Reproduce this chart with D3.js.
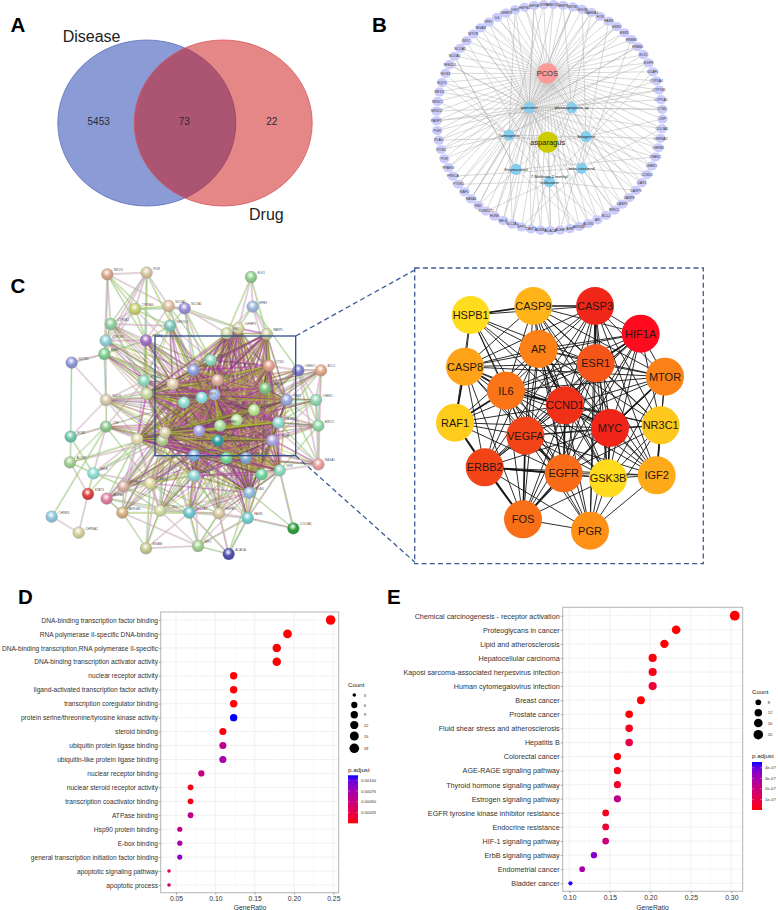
<!DOCTYPE html>
<html><head><meta charset="utf-8">
<script src="https://d3js.org/d3.v7.min.js"></script>
<style>html,body{margin:0;padding:0;background:#fff}svg{display:block}text{font-family:"Liberation Sans",Arial,sans-serif}</style>
</head><body><div id="c"></div>
<script>
/* ---------- data ---------- */
const vennValues=[5453,73,22], vennNames=["Disease","Drug"];

const ringGenes=["HMOX1","MMP9","GSTM1","GSK3B","GABRA1","FOS","FASN","ESR2","ESR1","ERBB3","ERBB2","ELK1","EGFR","DCAF1","CYP3A4","CYP1B1","CYP1A1","CTSD","CRP","COL3A1","CHRNA2","CHRM1","CHEK2","CHEK1","CCND1","CAV1","CASP9","CASP8","CASP3","BIRC5","BCL2","AR","ALOX5","AKR1B1","AHR","ACHE","ACACA","ADRB2","CANT1","SPP1","SLC2A4","SELE","HUNK","RUNX1T1","RB1","RASA1","RAF1","PTGS1","PRKCA","PPARG","POR","PON1","PLAU","PGR","PARP1","NR3C2","NR3C1","NR1I2","NQO1","NOS3","NFE2L2","NCOA2","NCOA1","MYC","MTOR","MGAM","IRF1","IL6","IGFBP3","IGF2","HSPB1","HIF1A","GYPA"];
const compounds=["quercetin","pleiosapogenin_qt","Yamogenin","Sitogenin","Stigmasterol","beta-sitosterol","7-Methoxy-2-methyl|isoflavone"];
const compoundX=[447,575,387,618,408,605,508], compoundY=[323,323,405,410,508,505,545];
const ringCompound="0103005005020610003020405001050602030015000602005010300050020406000100302".split("").map(Number);
const ringSecond=[[4,1],[7,0],[12,3],[15,1],[19,5],[22,3],[26,6],[29,5],[33,4],[36,6],[40,2],[44,4],[47,6],[51,2],[54,1],[58,2],[61,4],[66,1],[69,2],[2,0],[10,0],[17,0],[24,0],[31,0],[38,0],[45,0],[52,0],[60,0],[64,0],[71,0]];

const stringNames=["NR1I3","POR","ELK1","CYP3A4","NCOA2","NCOA1","EPB3","CYP1A1","NFE2L2","RB1","IGFBP3","PARP1","CYP1B1","PPARG","AHR","GSTM1","NR3C1","ESR2","CTSD","CHEK2","BCL2","PTGS1","IL6","MMP9","CASP3","PGR","NQO1","MYC","ESR1","EGFR","RAF1","CHEK1","CCND1","AR","ERBB2","CASP8","BIRC5","CRP","MTOR","PON1","HMOX1","SPP1","CASP9","GSK3B","HIF1A","FOS","PRKCA","VEGFA","ALOX5","RASA1","SELE","NR3C2","CAV1","IGF2","ICAM1","ACHE","PLAU","STAT3","ADRB2","NCOR1","SLC2A4","HSPB1","FASN","CHRM3","COL3A1","AKR1B1","CHRNA2","MGAM","IRF1","ACACA"];
const stringX=[142,260,573,225,326,374,578,152,330,500,535,620,137,258,133,35,452,400,627,715,783,252,338,472,615,260,138,372,425,463,680,768,582,530,480,655,775,138,417,32,232,307,473,637,402,499,558,315,30,775,100,402,605,659,270,190,568,84,140,300,388,477,563,-25,700,187,56,258,414,506];
const stringY=[58,53,66,162,153,160,155,207,212,235,220,237,257,256,297,323,315,345,332,346,346,377,387,375,400,416,435,442,428,419,435,435,465,495,512,503,512,515,527,545,552,556,557,556,601,609,609,533,622,628,655,662,658,646,685,694,713,717,731,767,773,775,789,785,820,773,833,880,873,897];
const stringColors=["#d9a98a","#d8c6a0","#8fd08f","#c8d070","#e0c0a0","#9a90d8","#a0b8e0","#90d0a0","#80c8b8","#c8d8a0","#d8d8a0","#c8d0a0","#90d0d8","#a070c8","#80d090","#9098d8","#90dcc0","#90a0e0","#e8a090","#8080d0","#e0a888","#90dcc0","#e0d0b0","#e0b0a0","#80c880","#c8dca0","#d8c8a8","#90e0d0","#90e0e0","#a0b8e8","#98a8e0","#90d8b0","#b8e890","#c0e8a0","#a8e0a0","#90dcd8","#90d8a8","#90c890","#a8a8e8","#70c8a8","#e0d8a8","#b8d090","#30a0a0","#a8a8e8","#80b8e0","#70d898","#80b0d0","#d8d0a8","#a0d090","#e8a0a0","#90e0d8","#90d8d8","#70d8a0","#90dcc0","#e0dca0","#d8b0a0","#90c0e0","#e04040","#e080a0","#d0dca0","#70c8d0","#d8c8a0","#70d0d0","#90c8e0","#30a040","#d8b080","#d8d0a0","#c8c890","#a0d090","#5050b0"];
const stringCore=[9,10,11,16,17,18,22,23,24,25,27,28,29,30,32,33,34,35,38,41,42,43,44,45,46,47,51,52,56,53,40];
const stringLinks=[[0,[1,3,7,13,4,12,14,23]],[1,[3,7,4,13,14,17,12,21]],[2,[6,9,10,11]],[3,[7,4,12,13,14,8,17,5]],[4,[5,8,13,17,28,16,10]],[5,[8,9,16,17,28,29,10]],[6,[9,10,11,19,18]],[7,[12,13,14,8,21,25,17,28]],[8,[13,17,21,16,28,27,22]],[12,[13,14,21,22,26,17,28]],[13,[14,21,22,17,25,28,27,29,32]],[14,[15,21,22,26,25,28,32,33]],[15,[26,39,14]],[19,[20,31,36,49,24,35,32,18,34]],[20,[31,36,49,24,30,35,19,33]],[21,[22,25,26,27,40,41,37]],[26,[37,40,41,22,25,27,28,33,47,29]],[30,[31,36,49,24]],[31,[36,49,35,43,32]],[36,[49,35,43,53,34]],[37,[39,40,41,47,54,50]],[39,[48,37,50,26]],[48,[50,57,37,41,47]],[49,[43,35,53,45,32]],[50,[57,41,47,54,55,40]],[54,[41,47,44,55,59,40,61,45,33,58,60]],[55,[41,47,40,59,54,65,44,60,33,34]],[57,[66,40]],[58,[65,41,47,40,59,60]],[59,[41,47,40,60,61,44,54,67,68,34,33]],[60,[41,47,44,45,61,62,51,68,69,27,32]],[61,[44,45,62,51,46,68,69,32,33,27]],[62,[56,44,45,46,51,68,69,64,24,53]],[63,[66,37]],[65,[47,41,40,67,68,60,54,58]],[67,[68,59,60,54,41]],[68,[69,56,61,62,60,51]],[69,[62,61,56,60]],[64,[53,62,56,43]],[51,[59,60,61,54,55,47,41,40]],[52,[62,61,60]],[53,[62,61,60,56]]];
const stringDense=[[13,[22,25,27,28,29,32,33,34,38,42,44,24]],[8,[22,25,27,28,29,33,34,38,42]],[21,[27,28,29,33,34,38,42,44,32,24,47]],[26,[34,38,42,44,45,32,24]],[37,[27,33,34,38,42,44,45,46]],[14,[27,29,34,38,42,44]],[7,[27,29,33,34,38]],[12,[27,29,33,38,44]],[19,[25,22,28,29,33,38,42,44,27]],[20,[28,29,34,38,42,44]],[31,[28,29,33,34,38,42]],[36,[28,29,33,38,42,44,45]],[49,[33,34,38,42,44,46]],[54,[27,28,29,32,34,38,42,46,56,51]],[55,[27,29,32,38,42,45,46]],[59,[27,29,32,38,42,45,46,51,56]],[60,[28,29,33,34,38,42,43,46,56]],[61,[28,29,34,38,42,43,56,35]],[62,[29,33,34,38,42,43,35]],[65,[27,29,34,38,42]],[58,[27,33,34,38,44]]];

const hubNames=["HSPB1","CASP9","CASP3","HIF1A","MTOR","AR","ESR1","CASP8","IL6","CCND1","MYC","NR3C1","RAF1","VEGFA","ERBB2","EGFR","GSK3B","IGF2","FOS","PGR"];
const hubScore=[0.02,0.22,0.92,1,0.48,0.48,0.72,0.3,0.55,0.88,0.93,0.12,0.1,0.8,0.8,0.6,0.03,0.27,0.58,0.4];
const hubX=[212,400,585,722,795,416,587,195,318,495,630,782,165,376,254,491,624,770,369,570];
const hubY=[105,78,78,161,290,207,250,260,332,376,444,436,428,467,562,580,595,586,718,752];
const hubMissing=[["HSPB1","FOS"],["HSPB1","PGR"],["HSPB1","IGF2"],["HSPB1","NR3C1"],["HSPB1","GSK3B"],["HSPB1","MTOR"],["HSPB1","HIF1A"],["CASP9","PGR"],["CASP9","FOS"],["CASP9","RAF1"],["CASP3","RAF1"],["HIF1A","RAF1"],["MTOR","RAF1"],["MTOR","FOS"],["NR3C1","RAF1"],["RAF1","IGF2"],["RAF1","PGR"],["IGF2","HIF1A"],["IGF2","FOS"],["PGR","HIF1A"],["PGR","MTOR"],["CASP8","IGF2"],["CASP8","PGR"],["CASP8","NR3C1"],["GSK3B","RAF1"],["ERBB2","NR3C1"],["ERBB2","MTOR"],["FOS","NR3C1"],["CASP3","FOS"],["HSPB1","ERBB2"],["CASP9","ERBB2"]];
const hubThick=[["ERBB2","EGFR"],["ERBB2","FOS"],["VEGFA","FOS"],["CASP8","IL6"],["CASP8","RAF1"],["RAF1","ERBB2"],["IGF2","NR3C1"],["MYC","GSK3B"],["CCND1","MYC"],["MYC","MTOR"],["VEGFA","EGFR"],["CASP3","ESR1"],["HIF1A","ESR1"],["CCND1","EGFR"],["IL6","CCND1"],["RAF1","IL6"],["AR","CCND1"],["EGFR","FOS"],["CASP9","CASP3"],["HSPB1","CASP9"]];

const goTerms=["DNA-binding transcription factor binding","RNA polymerase II-specific DNA-binding","DNA-binding transcription,RNA polymerase II-specific","DNA-binding transcription activator activity","nuclear receptor activity","ligand-activated transcription factor activity","transcription coregulator binding","protein serine/threonine/tyrosine kinase activity","steroid binding","ubiquitin protein ligase binding","ubiquitin-like protein ligase binding","nuclear receptor binding","nuclear steroid receptor activity","transcription coactivator binding","ATPase binding","Hsp90 protein binding","E-box binding","general transcription initiation factor binding","apoptotic signaling pathway","apoptotic process"];
const goRatio=[0.2466,0.1918,0.1781,0.1781,0.1233,0.1233,0.1233,0.1233,0.1096,0.1096,0.1096,0.0822,0.0685,0.0685,0.0685,0.0548,0.0548,0.0548,0.0411,0.0411];
const goCount=[18,14,13,13,9,9,9,9,8,8,8,6,5,5,5,4,4,4,3,3];
const goP=[0.000001,0.000001,0.000001,0.000001,0.000002,0.000002,0.00001,0.00112,0.00003,0.00058,0.00072,0.00052,0.00004,0.00004,0.00058,0.00058,0.00072,0.00086,0.00018,0.00042];
const goCountTicks=[3,6,9,12,15,18], goPTicks=[0.00025,0.0005,0.00075,0.001];

const keggTerms=["Chemical carcinogenesis - receptor activation","Proteoglycans in cancer","Lipid and atherosclerosis","Hepatocellular carcinoma","Kaposi sarcoma-associated herpesvirus infection","Human cytomegalovirus infection","Breast cancer","Prostate cancer","Fluid shear stress and atherosclerosis","Hepatitis B","Colorectal cancer","AGE-RAGE signaling pathway","Thyroid hormone signaling pathway","Estrogen signaling pathway","EGFR tyrosine kinase inhibitor resistance","Endocrine resistance","HIF-1 signaling pathway","ErbB signaling pathway","Endometrial cancer","Bladder cancer"];
const keggRatio=[0.3043,0.2319,0.2174,0.2029,0.2029,0.2029,0.1884,0.1739,0.1739,0.1739,0.1594,0.1594,0.1594,0.1594,0.1449,0.1449,0.1449,0.1304,0.1159,0.1014];
const keggCount=[21,16,15,14,14,14,13,12,12,12,11,11,11,11,10,10,10,9,8,7];
const keggP=[1e-9,2e-9,2e-9,5e-9,2e-8,6e-8,1e-9,1e-9,3e-8,9e-8,1e-9,2e-8,5e-8,2.4e-7,3e-8,7e-8,2e-7,3.6e-7,2.9e-7,4.5e-7];
const keggCountTicks=[8,12,16,20], keggPTicks=[1e-7,2e-7,3e-7,4e-7];

/* ---------- page ---------- */
const svg=d3.select("#c").append("svg").attr("width",778).attr("height",910);
const defs=svg.append("defs");

[["A",10.5,31.5],["B",372,31.5],["C",10.5,292.7],["D",18,604],["E",387,604]].forEach(([t,x,y])=>
  svg.append("text").attr("x",x).attr("y",y).attr("font-size",20.5).attr("font-weight","bold").attr("fill","#000").text(t));

/* A: Venn */
(function(){
  const g=svg.append("g");
  const cx=[146.8,223.2],fill=["rgba(21,55,173,0.5)","rgba(203,15,15,0.5)"],st=["#5a70bb","#d3565f"];
  cx.forEach((x,i)=>g.append("ellipse").attr("cx",x).attr("cy",123).attr("rx",89).attr("ry",83)
    .attr("fill",fill[i]).attr("stroke",st[i]).attr("stroke-width",0.8));
  [98.7,184.3,271.7].forEach((x,i)=>g.append("text").attr("x",x).attr("y",125).attr("text-anchor","middle")
    .attr("font-size",10).attr("fill","#2a2a33").text(vennValues[i]));
  g.append("text").attr("x",62.7).attr("y",42).attr("font-size",16).attr("fill","#222").text(vennNames[0]);
  g.append("text").attr("x",249).attr("y",219.5).attr("font-size",16).attr("fill","#222").text(vennNames[1]);
})();

/* B: compound-target network */
(function(){
  const g=svg.append("g");
  const px=d3.scaleLinear().domain([0,300]).range([380,680]);
  const py=d3.scaleLinear().domain([0,810]).range([0,270]);
  const ang=d3.scaleLinear().domain([0,ringGenes.length]).range([2,362]);
  const C={x:549.5,y:117.5,r:113};
  const ring=ringGenes.map((n,i)=>{const a=ang(i)*Math.PI/180;return{n,x:C.x+C.r*Math.sin(a),y:C.y-C.r*Math.cos(a)}});
  const comp=compounds.map((n,i)=>({n,x:px(compoundX[i]/3),y:py(compoundY[i])}));
  const pcos={x:547.3,y:73.3},asp={x:547.7,y:142.3};
  const links=[];
  ring.forEach((r,i)=>{links.push([r,pcos]);links.push([r,comp[ringCompound[i]]]);});
  ringSecond.forEach(([i,c])=>links.push([ring[i],comp[c]]));
  comp.forEach(c=>links.push([c,asp]));
  g.selectAll("line.l").data(links).join("line").attr("x1",d=>d[0].x).attr("y1",d=>d[0].y).attr("x2",d=>d[1].x).attr("y2",d=>d[1].y)
    .attr("stroke","#a9a9a9").attr("stroke-width",0.45);
  g.selectAll("ellipse").data(ring).join("ellipse").attr("cx",d=>d.x).attr("cy",d=>d.y).attr("rx",5.2).attr("ry",4.6).attr("fill","#ccccfa");
  g.selectAll("text.r").data(ring).join("text").attr("class","r").attr("x",d=>d.x).attr("y",d=>d.y+1.2).attr("text-anchor","middle")
    .attr("font-size",3.4).attr("fill","#333").text(d=>d.n);
  g.append("circle").attr("cx",pcos.x).attr("cy",pcos.y).attr("r",10.4).attr("fill","#ff9a9a");
  g.append("circle").attr("cx",asp.x).attr("cy",asp.y).attr("r",10.6).attr("fill","#cccc00");
  g.selectAll("circle.c").data(comp).join("circle").attr("class","c").attr("cx",d=>d.x).attr("cy",d=>d.y).attr("r",5.6).attr("fill","#87cdf0");
  comp.forEach(c=>{const p=c.n.split("|");p.forEach((t,i)=>g.append("text").attr("x",c.x).attr("y",c.y+1.5+(p.length>1?(i-0.9)*5.2:0))
    .attr("text-anchor","middle").attr("font-size",4.2).attr("fill","#222").text(t));});
  g.append("text").attr("x",pcos.x).attr("y",pcos.y+2.6).attr("text-anchor","middle").attr("font-size",7.5).attr("fill","#333").text("PCOS");
  g.append("text").attr("x",asp.x).attr("y",asp.y+2.4).attr("text-anchor","middle").attr("font-size",7.5).attr("fill","#222").text("asparagus");
})();

/* C: STRING network */
(function(){
  const g=svg.append("g");
  const px=d3.scaleLinear().domain([0,900]).range([60,360]);
  const py=d3.scaleLinear().domain([0,900]).range([255,555]);
  const nodes=stringNames.map((n,i)=>({n,i,x:px(stringX[i]),y:py(stringY[i]),c:stringColors[i]}));
  const palCore=["#b23ab4","#a3ad2c","#3a3a3a","#c84fb0","#8c9a1e","#9a2a9a","#c4cc3c"];
  const palEdge=["#d68fd8","#8ad8dc","#a6e09c","#d9e67e","#e7a9c6","#8f9f3a"];
  let k=0;
  function pair(a,b,pal,sw,op,n){
    const A=nodes[a],B=nodes[b],dx=B.x-A.x,dy=B.y-A.y,len=Math.hypot(dx,dy)||1,ox=-dy/len,oy=dx/len;
    for(let j=0;j<n;j++){
      const o=(j-(n-1)/2)*0.55;
      g.append("line").attr("x1",A.x+ox*o).attr("y1",A.y+oy*o).attr("x2",B.x+ox*o).attr("y2",B.y+oy*o)
       .attr("stroke",pal[(k+j*2)%pal.length]).attr("stroke-width",sw).attr("stroke-opacity",op);
    }
    k++;
  }
  stringLinks.forEach(([a,list])=>list.forEach(b=>pair(a,b,palEdge,0.55,0.9,3)));
  stringDense.forEach(([a,list])=>list.forEach(b=>pair(a,b,palCore,0.4,0.75,2)));
  stringCore.forEach((a,i)=>stringCore.slice(i+1).forEach(b=>pair(a,b,palCore,0.45,0.85,3)));
  nodes.forEach(d=>{
    const id="sn"+d.i,gr=defs.append("radialGradient").attr("id",id).attr("cx","45%").attr("cy","35%").attr("r","65%");
    gr.append("stop").attr("offset","0%").attr("stop-color","#fff");
    gr.append("stop").attr("offset","50%").attr("stop-color",d.c);
    gr.append("stop").attr("offset","100%").attr("stop-color",d3.color(d.c).darker(0.4));
  });
  g.selectAll("circle").data(nodes).join("circle").attr("cx",d=>d.x).attr("cy",d=>d.y).attr("r",5.9)
    .attr("fill",d=>`url(#sn${d.i})`).attr("stroke","#8f8f8f").attr("stroke-width",0.3);
  g.selectAll("text").data(nodes).join("text").attr("x",d=>d.x+6.5).attr("y",d=>d.y-3).attr("font-size",3.1).attr("fill","#555").text(d=>d.n);
  g.append("rect").attr("x",155).attr("y",336).attr("width",140.7).attr("height",119.7).attr("fill","none").attr("stroke","#2f4d8a").attr("stroke-width",1.3);
  const dash=g.append("g").attr("stroke","#3d5b94").attr("stroke-width",1.3).attr("stroke-dasharray","5 3.2").attr("fill","none");
  dash.append("rect").attr("x",414.7).attr("y",268).attr("width",288.6).attr("height",295.7);
  dash.append("line").attr("x1",295.7).attr("y1",336).attr("x2",414.7).attr("y2",270);
  dash.append("line").attr("x1",295.7).attr("y1",455.7).attr("x2",414.7).attr("y2",562);
})();

/* C: hub network */
(function(){
  const g=svg.append("g");
  const px=d3.scaleLinear().domain([0,780]).range([400,660]);
  const py=d3.scaleLinear().domain([0,870]).range([280,570]);
  const col=d3.scaleLinear().domain([0,0.4,0.75,0.93,1]).range(["#ffe01e","#ff9016","#f45018","#f02418","#ff0a1e"]).interpolate(d3.interpolateRgb);
  const nodes=hubNames.map((n,i)=>({n,x:px(hubX[i]),y:py(hubY[i]),s:hubScore[i]}));
  const key=(a,b)=>[a,b].sort().join("|");
  const miss=new Set(hubMissing.map(p=>key(p[0],p[1]))),thick=new Set(hubThick.map(p=>key(p[0],p[1])));
  const links=[];
  nodes.forEach((a,i)=>nodes.slice(i+1).forEach(b=>{if(!miss.has(key(a.n,b.n)))links.push([a,b,thick.has(key(a.n,b.n))]);}));
  g.selectAll("line").data(links).join("line").attr("x1",d=>d[0].x).attr("y1",d=>d[0].y).attr("x2",d=>d[1].x).attr("y2",d=>d[1].y)
    .attr("stroke","#161616").attr("stroke-width",d=>d[2]?1.7:0.9);
  g.selectAll("circle").data(nodes).join("circle").attr("cx",d=>d.x).attr("cy",d=>d.y).attr("r",19).attr("fill",d=>col(d.s));
  g.selectAll("text").data(nodes).join("text").attr("x",d=>d.x).attr("y",d=>d.y+3.9).attr("text-anchor","middle").attr("font-size",11).attr("fill","#2a1512").text(d=>d.n);
})();

/* D / E dot plots */
function dotPlot(o){
  const g=svg.append("g");
  const x=d3.scaleLinear().domain(o.xd).range(o.xr);
  const y=d3.scalePoint().domain(o.terms).range(o.yr);
  const col=d3.scaleLinear().domain([0,o.pMax]).range(["#ff0000","#0000ff"]).interpolate(d3.interpolateLab).clamp(true);
  const cmin=d3.min(o.count),cmax=d3.max(o.count);
  const rs=d3.scaleSqrt().domain([0,cmax-cmin]).range(o.rr);
  const r=c=>rs(c-cmin);
  const [L,R,T,B]=o.box;
  const majors=o.xt,minors=d3.pairs(majors).map(p=>(p[0]+p[1])/2).concat([majors[0]-(majors[1]-majors[0])/2,majors[majors.length-1]+(majors[1]-majors[0])/2]).filter(v=>x(v)>L&&x(v)<R);
  g.selectAll("line.mi").data(minors).join("line").attr("class","mi").attr("x1",d=>x(d)).attr("x2",d=>x(d)).attr("y1",T).attr("y2",B).attr("stroke","#f4f4f4").attr("stroke-width",0.5);
  g.selectAll("line.mx").data(majors).join("line").attr("class","mx").attr("x1",d=>x(d)).attr("x2",d=>x(d)).attr("y1",T).attr("y2",B).attr("stroke","#ebebeb").attr("stroke-width",0.7);
  g.selectAll("line.my").data(o.terms).join("line").attr("class","my").attr("x1",L).attr("x2",R).attr("y1",d=>y(d)).attr("y2",d=>y(d)).attr("stroke","#ebebeb").attr("stroke-width",0.7);
  g.append("rect").attr("x",L).attr("y",T).attr("width",R-L).attr("height",B-T).attr("fill","none").attr("stroke","#b5b5b5").attr("stroke-width",1);
  const xa=g.append("g").attr("transform",`translate(0,${B})`).call(d3.axisBottom(x).tickValues(majors).tickFormat(d3.format(".2f")).tickSize(2).tickPadding(1.5));
  const ya=g.append("g").attr("transform",`translate(${L},0)`).call(d3.axisLeft(y).tickSize(2).tickPadding(o.yPad));
  [xa,ya].forEach(a=>{a.select(".domain").remove();a.selectAll("line").attr("stroke","#555").attr("stroke-width",0.5);a.selectAll("text").attr("fill","#333").attr("font-family",'"Liberation Sans"');});
  xa.selectAll("text").attr("font-size",6.8);
  ya.selectAll("text").attr("font-size",o.ySize);
  g.selectAll("circle.d").data(o.terms).join("circle").attr("class","d").attr("cx",(d,i)=>x(o.ratio[i])).attr("cy",d=>y(d)).attr("r",(d,i)=>r(o.count[i])).attr("fill",(d,i)=>col(o.p[i]));
  g.append("text").attr("x",o.xLabel).attr("y",909.5).attr("text-anchor","middle").attr("font-size",6.8).attr("fill","#333").text("GeneRatio");
  /* legends */
  const lx=o.lx;
  g.append("text").attr("x",lx).attr("y",o.countY).attr("font-size",6.2).attr("fill","#222").text("Count");
  g.selectAll("circle.k").data(o.countTicks).join("circle").attr("class","k").attr("cx",lx+6.3).attr("cy",(d,i)=>o.countPos[i]).attr("r",d=>r(d)).attr("fill","#000");
  g.selectAll("text.k").data(o.countTicks).join("text").attr("class","k").attr("x",lx+15.7).attr("y",(d,i)=>o.countPos[i]+1.5).attr("font-size",4.2).attr("fill","#333").text(d=>d);
  g.append("text").attr("x",lx).attr("y",o.pY).attr("font-size",6.2).attr("fill","#222").text("p.adjust");
  const id="grad"+o.id,gr=defs.append("linearGradient").attr("id",id).attr("x1",0).attr("x2",0).attr("y1",1).attr("y2",0);
  d3.range(0,1.001,0.1).forEach(t=>gr.append("stop").attr("offset",t).attr("stop-color",col(t*o.pMax)));
  g.append("rect").attr("x",lx).attr("y",o.bar[0]).attr("width",10).attr("height",o.bar[1]-o.bar[0]).attr("fill",`url(#${id})`);
  const by=d3.scaleLinear().domain([0,o.pMax]).range([o.bar[1],o.bar[0]]);
  g.selectAll("line.t").data(o.pTicks).join("line").attr("class","t").attr("x1",lx).attr("x2",lx+2).attr("y1",d=>by(d)).attr("y2",d=>by(d)).attr("stroke","#fff").attr("stroke-width",0.3);
  g.selectAll("line.u").data(o.pTicks).join("line").attr("class","u").attr("x1",lx+8).attr("x2",lx+10).attr("y1",d=>by(d)).attr("y2",d=>by(d)).attr("stroke","#fff").attr("stroke-width",0.3);
  g.selectAll("text.t").data(o.pTicks).join("text").attr("class","t").attr("x",lx+13).attr("y",d=>by(d)+1.5).attr("font-size",4.2).attr("fill","#333").text(o.pFmt);
}
dotPlot({id:"D",terms:goTerms,ratio:goRatio,count:goCount,p:goP,xd:[0.05,0.25],xr:[176,333.3],yr:[620,885],box:[160.7,338.7,612,892.7],
  xt:[0.05,0.10,0.15,0.20,0.25],rr:[1.8,4.8],pMax:0.001116,ySize:6.6,yPad:0.7,xLabel:250,lx:348,countY:686.5,countTicks:goCountTicks,countPos:[695,705,714.7,725,736,748.3],
  pY:771.5,bar:[775.3,823.3],pTicks:goPTicks,pFmt:d3.format(".5f")});
dotPlot({id:"E",terms:keggTerms,ratio:keggRatio,count:keggCount,p:keggP,xd:[0.10,0.30],xr:[569.3,731.3],yr:[615.7,883.3],box:[562.7,742.7,607.3,891.3],
  xt:[0.10,0.15,0.20,0.25,0.30],rr:[2.1,4.9],pMax:4.55e-7,ySize:7.2,yPad:1,xLabel:652.5,lx:752,countY:694,countTicks:keggCountTicks,countPos:[702.3,712.7,723,734.7],
  pY:758,bar:[762,810],pTicks:keggPTicks,pFmt:d=>d.toExponential(0).replace("e-7","e-07")});
</script></body></html>
